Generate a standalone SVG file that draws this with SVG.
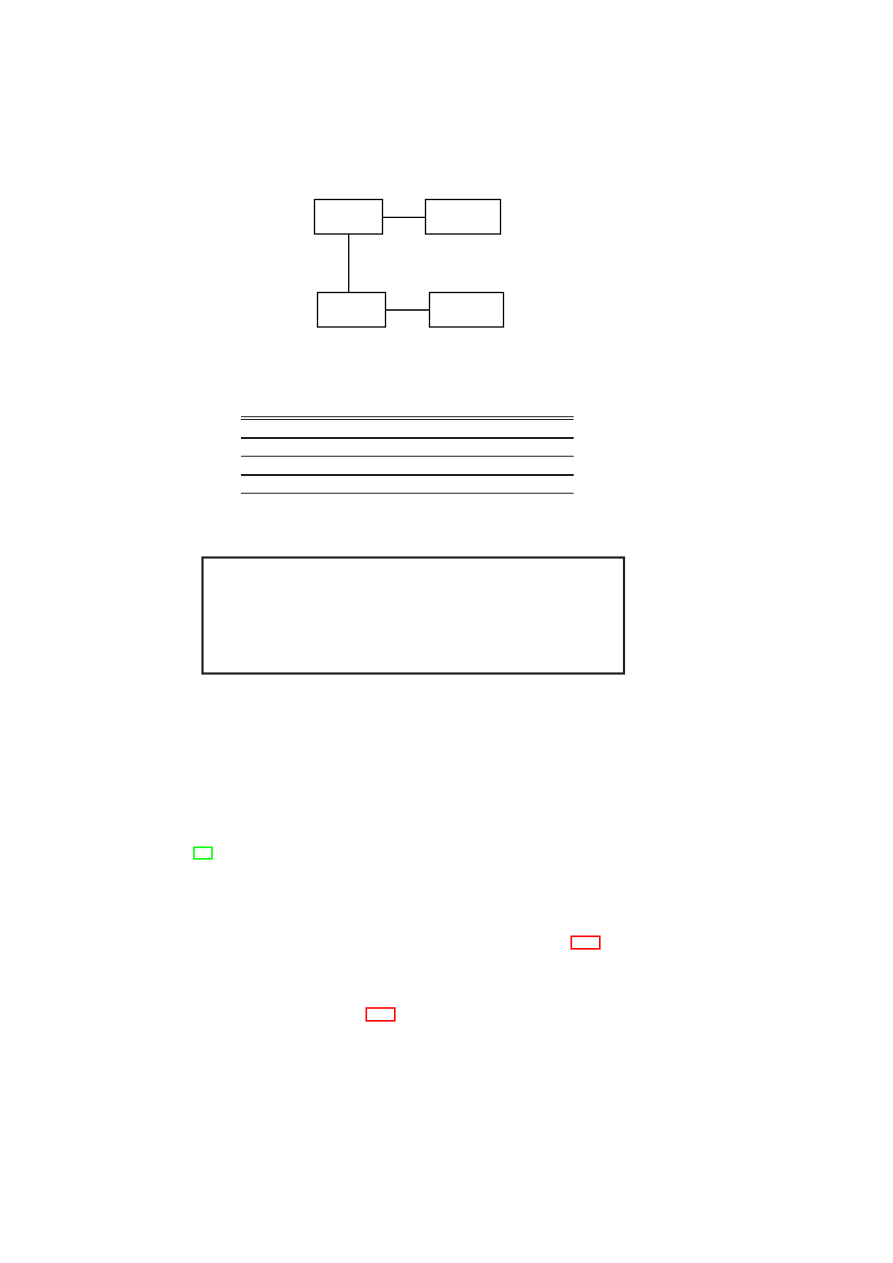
<svg xmlns="http://www.w3.org/2000/svg" width="893" height="1263" viewBox="0 0 893 1263">
<style>
.node{fill:none;stroke:#000;stroke-width:1.3}
.conn{stroke:#000;stroke-width:1.3;fill:none}
.rule{stroke:#231f20}
.frame{fill:none;stroke:#231f20;stroke-width:2.2}
.green{fill:none;stroke:#00ff00;stroke-width:1.6}
.red{fill:none;stroke:#ff0000;stroke-width:1.6}
</style>
<rect width="893" height="1263" fill="#fff"/>
<g id="connectors">
<line class="conn" x1="382.5" y1="217.3" x2="425.5" y2="217.3"/>
<line class="conn" x1="348.7" y1="234" x2="348.7" y2="292.3"/>
<line class="conn" x1="385.5" y1="310" x2="429.5" y2="310"/>
</g>
<g id="node1"><rect class="node" x="314.5" y="199.5" width="68" height="34.5"/></g>
<g id="node2"><rect class="node" x="425.5" y="199.5" width="75" height="34.5"/></g>
<g id="node3"><rect class="node" x="317.5" y="292.5" width="68" height="34.5"/></g>
<g id="node4"><rect class="node" x="429.5" y="292.5" width="74" height="34.5"/></g>
<g id="table">
<line class="rule" x1="241" y1="416.7" x2="573.7" y2="416.7" stroke-width="1"/>
<line class="rule" x1="241" y1="419.5" x2="573.7" y2="419.5" stroke-width="1"/>
<line class="rule" x1="241" y1="438" x2="573.7" y2="438" stroke-width="1.9"/>
<line class="rule" x1="241" y1="456.3" x2="573.7" y2="456.3" stroke-width="1.1"/>
<line class="rule" x1="241" y1="475" x2="573.7" y2="475" stroke-width="1.9"/>
<line class="rule" x1="241" y1="493.3" x2="573.7" y2="493.3" stroke-width="1.1"/>
</g>
<g id="frame"><rect class="frame" x="202.5" y="557.5" width="421.5" height="116"/></g>
<g id="green-box"><rect class="green" x="194" y="847.3" width="18" height="11.5"/></g>
<g id="red-box-1"><rect class="red" x="571.3" y="936.3" width="28.5" height="12.5"/></g>
<g id="red-box-2"><rect class="red" x="366.3" y="1008" width="28.5" height="12.8"/></g>
</svg>
